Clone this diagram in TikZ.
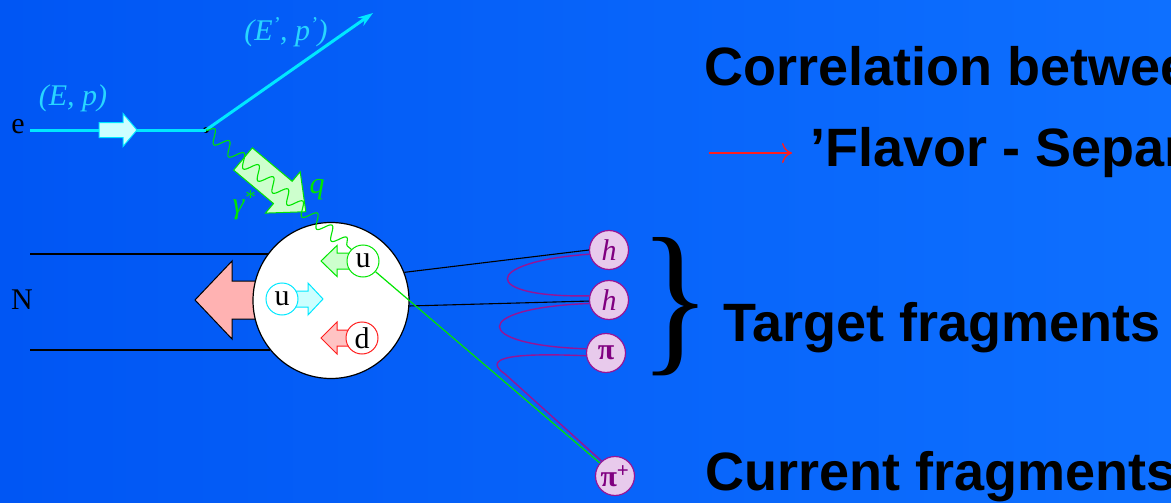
\documentclass[tikz,border=0pt]{standalone}
\usepackage{fontspec}
\setmainfont{Liberation Serif}
\newfontfamily\headfont{Liberation Sans}
\usetikzlibrary{arrows.meta,decorations.pathmorphing}

\definecolor{bgL}{RGB}{0,86,244}
\definecolor{bgR}{RGB}{14,112,255}
\definecolor{ecyan}{RGB}{0,232,255}
\definecolor{elabel}{RGB}{40,214,255}
\definecolor{lcyan}{RGB}{205,255,255}
\definecolor{gam}{RGB}{0,230,0}
\definecolor{lgreen}{RGB}{205,255,205}
\definecolor{qred}{RGB}{255,30,30}
\definecolor{lred}{RGB}{255,195,195}
\definecolor{pink}{RGB}{255,178,178}
\definecolor{hfill}{RGB}{232,202,236}
\definecolor{hline}{RGB}{150,20,150}
\definecolor{htext}{RGB}{128,0,128}

\tikzset{
  % fat block arrow along +x: length, shaft half-width, head half-width, head length
  fatdims/.code n args={4}{\def\fl{#1}\def\fb{#2}\def\fw{#3}\def\fh{#4}},
  fat/.pic={\draw[pic actions] (0,-\fb) -- ({\fl-\fh},-\fb) -- ({\fl-\fh},-\fw)
      -- (\fl,0) -- ({\fl-\fh},\fw) -- ({\fl-\fh},\fb) -- (0,\fb) -- cycle;},
  quark/.style={circle, draw, fill=white, line width=1pt, minimum size=32pt,
      inner sep=0pt, font=\fontsize{30}{30}\selectfont},
  hadron/.style={circle, draw=hline, fill=hfill, line width=1.2pt, minimum size=39pt,
      inner sep=0pt, text=htext, font=\fontsize{30}{30}\selectfont},
  plainlabel/.style={inner sep=0pt, font=\fontsize{30}{30}\selectfont},
  headline/.style={inner sep=0pt, anchor=base west,
      font=\headfont\bfseries\fontsize{54}{54}\selectfont},
  eline/.style={draw=ecyan, line width=3pt},
  string/.style={draw=hline, line width=1.4pt},
  photon/.style={draw=gam, line width=1.1pt, decorate,
      decoration={snake, segment length=19pt, amplitude=6.5pt}},
}

\begin{document}
\begin{tikzpicture}[x=1pt, y=-1pt]
  \useasboundingbox (0,0) rectangle (1171,503);
  \clip (0,0) rectangle (1171,503);
  \shade[left color=bgL, right color=bgR] (0,0) rectangle (1171,503);

  % incoming and scattered electron
  \node[plainlabel] (elab) at (18,127) {e};
  \coordinate (ein) at (30,130);
  \node[circle, fill=black, inner sep=0pt, minimum size=6pt] (vtx) at (206,130) {};
  \coordinate (eout) at (373,13);
  \draw[eline] (ein) -- (vtx.center);
  \draw[eline, -{Stealth[length=15pt, width=10pt]}] (vtx.center) -- (eout);
  \pic[draw=ecyan, fill=lcyan, line width=1pt, fatdims={38}{7.5}{16.5}{14}] at (99,130) {fat};
  \node[plainlabel, text=elabel, font=\itshape\fontsize{30}{30}\selectfont] (ep) at (73,98) {(E, p)};
  \node[plainlabel, text=elabel, font=\itshape\fontsize{30}{30}\selectfont] (epp) at (286,32)
      {(E\textsuperscript{’}, p\textsuperscript{’})};

  % nucleon
  \node[plainlabel] (nlab) at (22,300) {N};
  \coordinate (topl) at (30,254);
  \coordinate (botl) at (30,350);
  \draw[black, line width=1.1pt] (topl) -- (270,254);
  \draw[black, line width=1.1pt] (botl) -- (270,350);
  \pic[draw=black, fill=pink, line width=1pt, rotate=180, fatdims={72}{19}{39}{37}] at (267,300) {fat};
  \node[circle, draw=black, fill=white, line width=1.2pt, minimum size=156pt, inner sep=0pt] (nuc) at (331,300.5) {};

  % quarks with their momentum arrows
  \pic[draw=gam, fill=lgreen, line width=1pt, rotate=180, fatdims={42}{8}{15.5}{16}] at (363,261) {fat};
  \pic[draw=ecyan, fill=lcyan, line width=1pt, fatdims={41}{8}{16}{15}] at (282,299) {fat};
  \pic[draw=qred, fill=lred, line width=1pt, rotate=180, fatdims={41}{8}{16}{16}] at (362,338) {fat};
  \node[quark, draw=gam] (gu) at (363,261) {u};
  \node[quark, draw=ecyan] (cu) at (282,299) {u};
  \node[quark, draw=qred] (rd) at (362,338) {d};

  % virtual photon
  \pic[draw=gam, fill=lgreen, line width=1pt, rotate=-40, fatdims={82}{14.5}{27}{30}] at (243,159) {fat};
  \draw[photon] (vtx.center) -- (gu.135);
  \node[plainlabel, text=gam, font=\itshape\fontsize{30}{30}\selectfont] (glab) at (244,205) {γ\textsuperscript{*}};
  \node[plainlabel, text=gam, font=\itshape\fontsize{30}{30}\selectfont] (qlab) at (317,190) {q};

  % hadrons
  \node[hadron] (h1) at (609,250) {\itshape h};
  \node[hadron] (h2) at (609,300) {\itshape h};
  \node[hadron] (pi) at (606,353) {\bfseries π};
  \node[hadron] (pip) at (615,476) {\bfseries π\textsuperscript{+}};

  \draw[black, line width=1.1pt] (nuc.21) -- (h1.west);
  \draw[black, line width=1.1pt] (nuc.-4) -- (h2.183);
  \draw[gam, line width=1.2pt] (gu) -- (pip);

  \draw[string] (h1.192) .. controls (480,262) and (480,298) .. (h2.168);
  \draw[string] (h2.190) .. controls (470,308) and (470,345) .. (pi.168);
  \draw[string] (pi.188) .. controls (500,352) and (485,360) .. (505,374) -- (pip.132);

  % brace and captions
  \node[inner sep=0pt, anchor=center] (brace) at (676,307)
      {\resizebox{72pt}{116pt}{\}}};
  \node[headline] (t1) at (704,86) {Correlation betwee};
  \coordinate (ra) at (709,153);
  \coordinate (rb) at (792,153);
  \draw[qred, line width=1.4pt, -{To[length=10pt, width=20pt]}] (ra) -- (rb);
  \node[headline] (t2) at (810,166) {’Flavor - Separ};
  \node[headline] (t3) at (723,341) {Target fragments};
  \node[headline] (t4) at (705,490) {Current fragments};
\end{tikzpicture}
\end{document}
